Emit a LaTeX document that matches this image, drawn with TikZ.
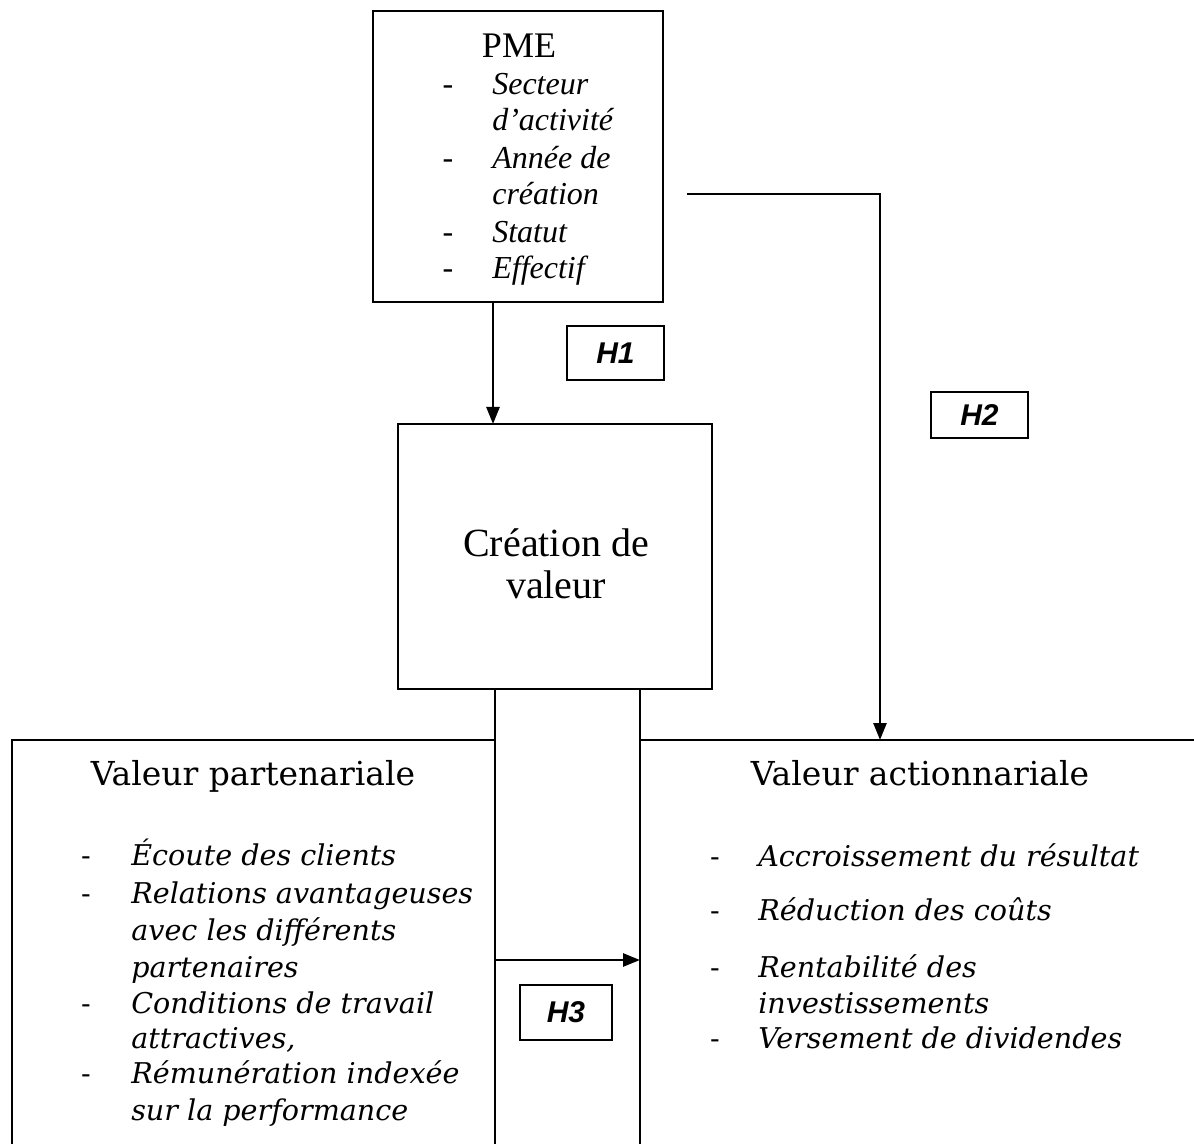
\documentclass[tikz,border=0pt]{standalone}
\usepackage{fontspec}
\setmainfont{Liberation Serif}
\newfontfamily\geo{DejaVu Serif}
\newfontfamily\hsans{Liberation Sans}
\usetikzlibrary{arrows.meta}
\begin{document}
\begin{tikzpicture}[x=0.5pt,y=-0.5pt, line width=1.3pt,
  box/.style={draw, rectangle, inner sep=0pt, outer sep=0pt},
  arr/.style={-{Triangle[length=8.5pt,width=6.5pt]}},
  hbox/.style={draw, rectangle, inner sep=0pt, outer sep=0pt, font=\hsans\bfseries\itshape\fontsize{15}{17}\selectfont},
  pit/.style={anchor=base west, inner sep=0pt, font=\itshape\fontsize{16}{19}\selectfont},
  pdash/.style={anchor=base, inner sep=0pt, font=\fontsize{16}{19}\selectfont},
  git/.style={anchor=base west, inner sep=0pt, font=\geo\itshape\fontsize{14.3}{17}\selectfont},
  gdash/.style={anchor=base, inner sep=0pt, font=\geo\fontsize{14.3}{17}\selectfont},
  gtitle/.style={anchor=base, inner sep=0pt, font=\geo\fontsize{16.5}{20}\selectfont}]
\useasboundingbox (0,0) rectangle (1194,1144);

% boxes
\node[box, minimum width=145pt, minimum height=145.5pt] (pme) at (518,156.5) {};
\node[box, minimum width=157pt, minimum height=132.5pt] (cre) at (555,556.5) {};
\node[hbox, minimum width=48.5pt, minimum height=27pt] (h1) at (615.5,353) {H1};
\node[hbox, minimum width=48.5pt, minimum height=23pt] (h2) at (979.5,415) {H2};
\node[hbox, minimum width=46pt, minimum height=27.5pt] (h3) at (566,1012.5) {H3};
\node[box, minimum width=241.5pt, minimum height=230pt] (part) at (253.5,970) {};
\node[box, minimum width=295pt, minimum height=230pt] (act) at (935,970) {};

% PME text
\node[inner sep=0pt, anchor=base, font=\fontsize{18}{21}\selectfont] (pmet) at (519,58) {PME};
\node[pdash] (pd1) at (448,95) {-};
\node[pit] (p1) at (491,95) {Secteur};
\node[pit] (p1b) at (491,131) {d'activité};
\node[pdash] (pd2) at (448,169) {-};
\node[pit] (p2) at (491,169) {Année de};
\node[pit] (p2b) at (491,205) {création};
\node[pdash] (pd3) at (448,243) {-};
\node[pit] (p3) at (491,243) {Statut};
\node[pdash] (pd4) at (448,279) {-};
\node[pit] (p4) at (491,279) {Effectif};

% Creation text
\node[align=center, inner sep=0pt, font=\fontsize{20}{21}\selectfont] (cret) at (556,564) {Création de\\valeur};

% Valeur partenariale
\node[gtitle] (partt) at (253,785) {Valeur partenariale};
\node[gdash] (gd1) at (86,865) {-};
\node[git] (g1) at (130,865) {Écoute des clients};
\node[gdash] (gd2) at (86,903) {-};
\node[git] (g2) at (130,903) {Relations avantageuses};
\node[git] (g2b) at (130,940) {avec les différents};
\node[git] (g2c) at (130,977) {partenaires};
\node[gdash] (gd3) at (86,1013) {-};
\node[git] (g3) at (130,1013) {Conditions de travail};
\node[git] (g3b) at (130,1048) {attractives,};
\node[gdash] (gd4) at (86,1083) {-};
\node[git] (g4) at (130,1083) {Rémunération indexée};
\node[git] (g4b) at (130,1120) {sur la performance};

% Valeur actionnariale
\node[gtitle] (actt) at (920,785) {Valeur actionnariale};
\node[gdash] (ad1) at (715,866) {-};
\node[git] (a1) at (757,866) {Accroissement du résultat};
\node[gdash] (ad2) at (715,920) {-};
\node[git] (a2) at (757,920) {Réduction des coûts};
\node[gdash] (ad3) at (715,977) {-};
\node[git] (a3) at (757,977) {Rentabilité des};
\node[git] (a3b) at (757,1013) {investissements};
\node[gdash] (ad4) at (715,1048) {-};
\node[git] (a4) at (757,1048) {Versement de dividendes};

% connectors
\draw[arr] (493,0 |- pme.south) -- (493,0 |- cre.north);
\coordinate (h2s) at (687,194);
\draw[arr] (h2s) -- (880,194) -- (880,0 |- act.north);
\draw (part.north east) -- (part.north east |- cre.south);
\draw (act.north west) -- (act.north west |- cre.south);
\draw[arr] (part.east |- 0,960) -- (act.west |- 0,960);
\end{tikzpicture}
\end{document}
